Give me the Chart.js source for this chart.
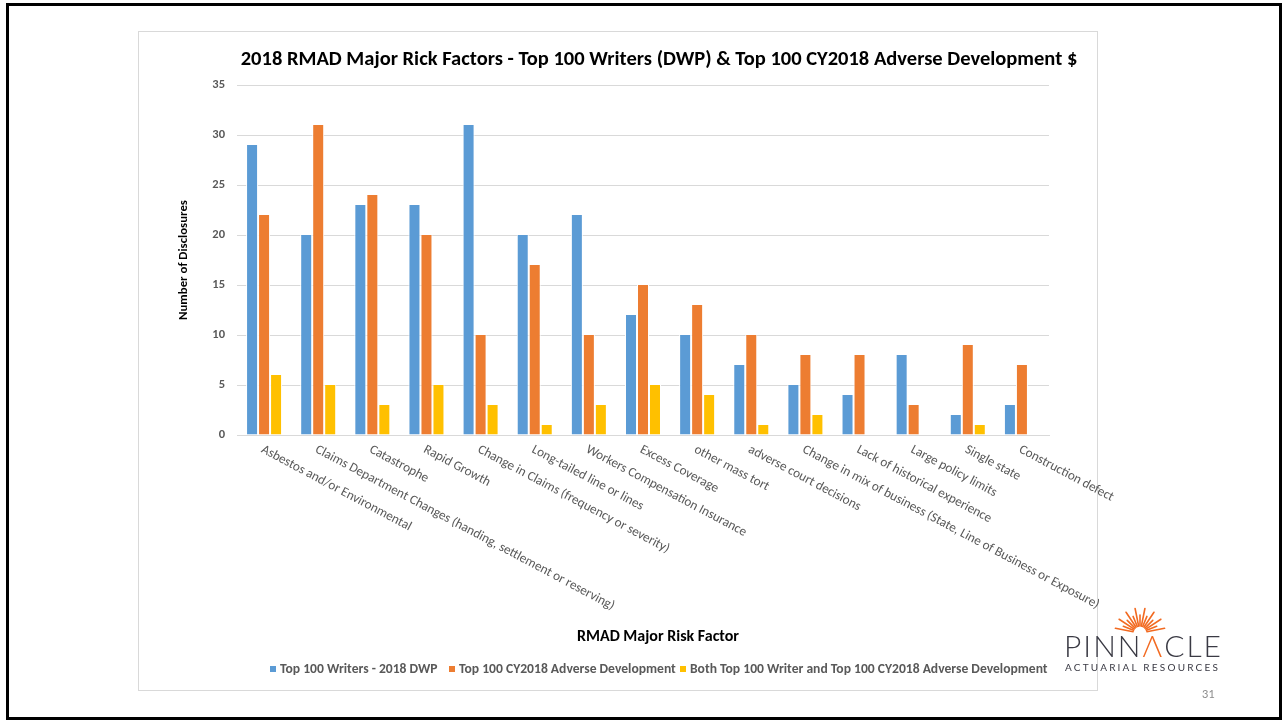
<!DOCTYPE html>
<html>
<head>
<meta charset="utf-8">
<script src="https://cdn.jsdelivr.net/npm/chart.js@4.4.1/dist/chart.umd.min.js"></script>
<style>
  html, body { margin: 0; padding: 0; background: #fff; }
  body { width: 1283px; height: 721px; position: relative; overflow: hidden; font-family: Carlito, Lato, sans-serif; }
  #frame { position: absolute; left: 6px; top: 3px; width: 1276px; height: 717px; border: 3px solid #000; box-sizing: border-box; }
  #chartBox { position: absolute; left: 138px; top: 31px; width: 960px; height: 660px; border: 1px solid #d9d9d9; box-sizing: border-box; }
  #c { position: absolute; left: 0; top: 0; z-index: 2; }
  #logo { position: absolute; left: 1060px; top: 602px; width: 170px; height: 80px; z-index: 3; }
  #pinnacle { position: absolute; left: 4px; top: 28px; font-family: Lato, sans-serif; font-size: 30px; font-weight: 300; color: #3a3a44; letter-spacing: 2px; line-height: 1; white-space: nowrap; }
  #pinnacle .a { color: #f26a21; }
  #actuarial { position: absolute; left: 5px; top: 59px; font-family: Lato, sans-serif; font-size: 10px; color: #3a3a44; letter-spacing: 2.2px; white-space: nowrap; }
  #pageNum { position: absolute; left: 1202px; top: 687px; font-family: Lato, sans-serif; font-size: 11px; color: #8c8c8c; z-index: 3; }
</style>
</head>
<body>
<div id="frame"></div>
<div id="chartBox"></div>
<canvas id="c" width="1283" height="721"></canvas>
<div id="logo">
  <svg width="170" height="40" style="position:absolute;left:0;top:0" viewBox="0 0 170 40">
    <g stroke="#f26a21" stroke-width="1.6" stroke-linecap="round" id="rays"></g>
  </svg>
  <div id="pinnacle">PINN<span class="a">&#923;</span>CLE</div>
  <div id="actuarial">ACTUARIAL RESOURCES</div>
</div>
<div id="pageNum">31</div>
<script>
// ---- Data ----
const categories = [
  "Asbestos and/or Environmental",
  "Claims Department Changes (handing, settlement or reserving)",
  "Catastrophe",
  "Rapid Growth",
  "Change in Claims (frequency or severity)",
  "Long-tailed line or lines",
  "Workers Compensation Insurance",
  "Excess Coverage",
  "other mass tort",
  "adverse court decisions",
  "Change in mix of business (State, Line of Business or Exposure)",
  "Lack of historical experience",
  "Large policy limits",
  "Single state",
  "Construction defect"
];
const top100Writers = [29, 20, 23, 23, 31, 20, 22, 12, 10, 7, 5, 4, 8, 2, 3];
const top100Adverse = [22, 31, 24, 20, 10, 17, 10, 15, 13, 10, 8, 8, 3, 9, 7];
const bothTop100 = [6, 5, 3, 5, 3, 1, 3, 5, 4, 1, 2, 0, 0, 1, 0];
const seriesNames = [
  "Top 100 Writers - 2018 DWP",
  "Top 100 CY2018 Adverse Development",
  "Both Top 100 Writer and Top 100 CY2018 Adverse Development"
];
const yTickValues = [0, 5, 10, 15, 20, 25, 30, 35];
const chartTitle = "2018 RMAD Major Rick Factors - Top 100 Writers (DWP) & Top 100 CY2018 Adverse Development $";
const xAxisTitle = "RMAD Major Risk Factor";
const yAxisTitle = "Number of Disclosures";

// ---- Logo rays (decoration) ----
(function(){
  const g = document.getElementById('rays');
  const cx = 80, cy = 31;
  const n = 15;
  for (let i = 0; i < n; i++) {
    const a = Math.PI * (0.06 + 0.88 * i / (n - 1));
    const r1 = 7, r2 = (i % 2 === 0) ? 25 : 18;
    const l = document.createElementNS('http://www.w3.org/2000/svg', 'line');
    l.setAttribute('x1', cx - Math.cos(a) * r1);
    l.setAttribute('y1', cy - Math.sin(a) * r1);
    l.setAttribute('x2', cx - Math.cos(a) * r2);
    l.setAttribute('y2', cy - Math.sin(a) * r2);
    g.appendChild(l);
  }
})();

const FONT = "Carlito, Lato, sans-serif";
const colors = ["#5B9BD5", "#ED7D31", "#FFC000"];
const LABEL_ANGLE = 28 * Math.PI / 180;

const textPlugin = {
  id: 'textPlugin',
  afterDraw(chart) {
    const ctx = chart.ctx;
    const xs = chart.scales.x;
    const area = chart.chartArea;
    ctx.save();
    // Title
    ctx.fillStyle = '#000';
    ctx.font = 'bold 20.5px ' + FONT;
    ctx.textAlign = 'center';
    ctx.textBaseline = 'middle';
    ctx.fillText(chartTitle, 659, 60);
    // Category labels (rotated clockwise)
    ctx.font = '13.2px ' + FONT;
    ctx.fillStyle = '#595959';
    ctx.textAlign = 'left';
    ctx.textBaseline = 'top';
    categories.forEach((c, i) => {
      const x = xs.getPixelForValue(i);
      ctx.save();
      ctx.translate(x + 1, area.bottom + 8);
      ctx.rotate(LABEL_ANGLE);
      ctx.fillText(c, 0, 0);
      ctx.restore();
    });
    // X axis title
    ctx.fillStyle = '#000';
    ctx.font = 'bold 16px ' + FONT;
    ctx.textAlign = 'center';
    ctx.textBaseline = 'middle';
    ctx.fillText(xAxisTitle, 658, 637);
    // Legend
    ctx.font = 'bold 13.6px ' + FONT;
    ctx.textAlign = 'left';
    const legendStarts = [270, 449, 680];
    chart.data.datasets.forEach((ds, i) => {
      const x0 = legendStarts[i];
      ctx.fillStyle = ds.backgroundColor;
      ctx.fillRect(x0, 666, 6, 6);
      ctx.fillStyle = '#595959';
      ctx.fillText(ds.label, x0 + 10, 669.5);
    });
    ctx.restore();
  }
};

new Chart(document.getElementById('c'), {
  type: 'bar',
  data: {
    labels: categories,
    datasets: [
      { label: seriesNames[0], data: top100Writers, backgroundColor: colors[0] },
      { label: seriesNames[1], data: top100Adverse, backgroundColor: colors[1] },
      { label: seriesNames[2], data: bothTop100, backgroundColor: colors[2] }
    ].map(d => Object.assign(d, { borderColor: '#ffffff', borderWidth: { top: 0, left: 1, right: 1, bottom: 0 }, categoryPercentage: 0.665, barPercentage: 1.0 }))
  },
  options: {
    responsive: false,
    animation: false,
    devicePixelRatio: 1,
    layout: { padding: { left: 137, top: 85, right: 234, bottom: 286 } },
    plugins: {
      legend: { display: false },
      title: { display: false },
      tooltip: { enabled: false }
    },
    scales: {
      x: {
        grid: { display: false },
        border: { display: true, color: '#d9d9d9', width: 1 },
        ticks: { display: false },
        afterFit: s => { s.height = 0; }
      },
      y: {
        min: 0,
        max: 35,
        afterBuildTicks: s => { s.ticks = yTickValues.map(v => ({ value: v })); },
        grid: { color: '#d9d9d9', drawTicks: false },
        border: { display: false },
        ticks: { padding: 12, color: '#595959', font: { family: FONT, size: 12.5, weight: 'bold' } },
        title: { display: true, text: yAxisTitle, color: '#000', font: { family: FONT, size: 12.8, weight: 'bold' }, padding: { top: 39, bottom: 0 } },
        afterFit: s => { s.width = 100; }
      }
    }
  },
  plugins: [textPlugin]
});
</script>
</body>
</html>
